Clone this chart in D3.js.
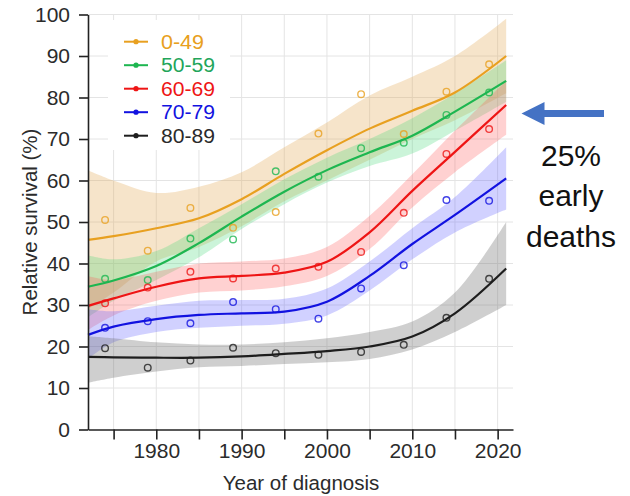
<html lang="en">
<head>
<meta charset="UTF-8">
<title>Relative survival</title>
<style>
  body { margin: 0; background: #fff; }
  text { font-family: "Liberation Sans", Arial, sans-serif; }
</style>
</head>
<body>
<script src="https://d3js.org/d3.v7.min.js"></script>
<script>
// age groups
var groups = ["0-49", "50-59", "60-69", "70-79", "80-89"];
var lineColors = ["#e8a020", "#1db650", "#ee1515", "#1212e0", "#1e1e1e"];
var textColors = ["#e8a020", "#22a55a", "#ee1515", "#1212e0", "#2a2a2a"];
var bandColors = ["rgba(228,170,90,0.32)", "rgba(70,215,120,0.28)", "rgba(255,90,90,0.28)", "rgba(90,90,255,0.28)", "rgba(110,110,110,0.33)"];

// observed values
var pointYears = [1974, 1979, 1984, 1989, 1994, 1999, 2004, 2009, 2014, 2019];
var pts0 = [50.5, 43.1, 53.4, 48.6, 52.4, 71.3, 80.8, 71.2, 81.4, 88.0];
var pts1 = [36.3, 36.0, 46.0, 45.8, 62.2, 60.9, 67.8, 69.1, 75.8, 81.2];
var pts2 = [30.4, 34.2, 38.0, 36.4, 38.8, 39.2, 42.8, 52.2, 66.4, 72.4];
var pts3 = [24.5, 26.1, 25.6, 30.7, 29.0, 26.7, 34.0, 39.6, 55.3, 55.1];
var pts4 = [19.6, 14.9, 16.6, 19.7, 18.4, 18.0, 18.7, 20.4, 26.9, 36.3];

// fitted curve and confidence band
var fitYears = [1972, 1975, 1980, 1985, 1990, 1995, 2000, 2005, 2010, 2015, 2021];
var fit0 = [45.7, 46.6, 48.5, 50.9, 55.5, 61.6, 67.3, 72.5, 76.8, 81.2, 90.0];
var lo0  = [29.0, 33.0, 40.5, 44.0, 49.0, 55.0, 60.0, 65.0, 70.0, 74.5, 81.0];
var hi0  = [62.5, 60.0, 57.0, 58.5, 62.0, 68.0, 74.0, 80.5, 85.0, 90.0, 99.0];
var fit1 = [34.4, 35.9, 39.4, 44.9, 51.3, 57.3, 62.5, 66.8, 70.8, 76.6, 84.0];
var lo1  = [27.0, 31.0, 36.0, 41.5, 48.3, 54.3, 59.5, 63.5, 66.5, 72.0, 79.0];
var hi1  = [42.0, 41.0, 43.0, 48.5, 54.3, 60.3, 65.5, 70.0, 75.0, 81.0, 89.0];
var fit2 = [29.8, 31.6, 34.4, 36.4, 37.0, 37.8, 40.4, 47.5, 57.5, 66.9, 78.2];
var lo2  = [24.0, 27.5, 31.0, 33.0, 33.5, 34.5, 37.0, 43.5, 53.5, 62.0, 71.0];
var hi2  = [37.0, 36.0, 38.0, 40.0, 40.5, 41.2, 44.0, 51.5, 61.5, 72.0, 84.0];
var fit3 = [22.8, 24.8, 26.6, 27.6, 28.0, 28.4, 30.8, 37.0, 44.7, 51.7, 60.5];
var lo3  = [17.0, 21.0, 23.5, 24.5, 25.0, 25.5, 27.5, 33.5, 41.0, 47.5, 53.0];
var hi3  = [29.0, 28.5, 29.8, 31.0, 31.2, 31.5, 34.0, 40.5, 48.5, 56.0, 68.0];
var fit4 = [17.5, 17.4, 17.3, 17.3, 17.6, 18.2, 18.9, 20.0, 22.4, 28.0, 38.8];
var lo4  = [11.3, 12.5, 14.0, 15.0, 15.3, 15.8, 16.2, 17.0, 19.3, 23.5, 30.0];
var hi4  = [22.5, 22.0, 21.0, 20.5, 20.5, 21.0, 22.0, 23.5, 26.0, 33.0, 50.0];

var yTicks = [0, 10, 20, 30, 40, 50, 60, 70, 80, 90, 100];
var xTicks = [1975, 1980, 1985, 1990, 1995, 2000, 2005, 2010, 2015, 2020];
var xLabels = [1980, 1990, 2000, 2010, 2020];
var noteLines = ["25%", "early", "deaths"];

var pts = [pts0, pts1, pts2, pts3, pts4];
var fits = [fit0, fit1, fit2, fit3, fit4];
var los = [lo0, lo1, lo2, lo3, lo4];
var his = [hi0, hi1, hi2, hi3, hi4];

var svg = d3.select("body").append("svg").attr("width", 630).attr("height", 496);

var x = d3.scaleLinear().domain([1972, 2021.8]).range([88, 513]);
var y = d3.scaleLinear().domain([0, 100]).range([429.5, 14.5]);

// grid
svg.append("g").selectAll("line").data(xTicks).enter().append("line")
    .attr("x1", function(d){ return x(d); }).attr("x2", function(d){ return x(d); })
    .attr("y1", y(0)).attr("y2", y(100))
    .attr("stroke", "#e4e4e4").attr("stroke-width", 1);
svg.append("g").selectAll("line").data(yTicks.slice(1)).enter().append("line")
    .attr("x1", x(1972)).attr("x2", x(2021.8))
    .attr("y1", function(d){ return y(d); }).attr("y2", function(d){ return y(d); })
    .attr("stroke", "#e4e4e4").attr("stroke-width", 1);

// bands
var curve = d3.curveCatmullRom.alpha(0.5);
var area = d3.area()
    .x(function(d){ return x(d.yr); })
    .y0(function(d){ return y(d.lo); })
    .y1(function(d){ return y(d.hi); })
    .curve(curve);
var line = d3.line()
    .x(function(d){ return x(d.yr); })
    .y(function(d){ return y(d.v); })
    .curve(curve);

groups.forEach(function(g, i){
    var rows = fitYears.map(function(yr, j){ return { yr: yr, lo: los[i][j], hi: his[i][j] }; });
    svg.append("path").attr("d", area(rows)).attr("fill", bandColors[i]);
});

groups.forEach(function(g, i){
    var rows = fitYears.map(function(yr, j){ return { yr: yr, v: fits[i][j] }; });
    svg.append("path").attr("d", line(rows)).attr("fill", "none")
        .attr("stroke", lineColors[i]).attr("stroke-width", 2.2);
});

groups.forEach(function(g, i){
    svg.append("g").selectAll("circle").data(pts[i]).enter().append("circle")
        .attr("cx", function(d, j){ return x(pointYears[j]); })
        .attr("cy", function(d){ return y(d); })
        .attr("r", 3.3)
        .attr("fill", "none")
        .attr("stroke", lineColors[i])
        .attr("stroke-opacity", 0.8)
        .attr("stroke-width", 1.4);
});

// axes
var yAxis = d3.axisLeft(y).tickValues(yTicks).tickSize(9).tickSizeOuter(0).tickPadding(9);
var gy = svg.append("g").attr("transform", "translate(88,0)").call(yAxis);
var xAxis = d3.axisBottom(x).tickValues(xTicks).tickSize(10).tickSizeOuter(0).tickPadding(4)
    .tickFormat(function(d){ return xLabels.indexOf(d) >= 0 ? d : ""; });
var gx = svg.append("g").attr("transform", "translate(0," + y(0) + ")").call(xAxis);
[gx, gy].forEach(function(g){
    g.selectAll("path, line").attr("stroke", "#222").attr("stroke-width", 1.6);
    g.selectAll("text").attr("font-size", 21).attr("fill", "#2b2b2b")
        .attr("font-family", "Liberation Sans, Arial, sans-serif");
});

svg.append("text")
    .attr("transform", "translate(37,222) rotate(-90)")
    .attr("text-anchor", "middle")
    .attr("font-size", 20.5).attr("fill", "#2b2b2b")
    .text("Relative survival (%)");
svg.append("text")
    .attr("x", 301).attr("y", 490)
    .attr("text-anchor", "middle")
    .attr("font-size", 20.5).attr("fill", "#2b2b2b")
    .text("Year of diagnosis");

// legend
var legend = svg.append("g");
legend.append("rect").attr("x", 108).attr("y", 20).attr("width", 122).attr("height", 130).attr("fill", "#fff");
groups.forEach(function(g, i){
    var cy = 41.7 + i * 23.5;
    legend.append("line").attr("x1", 124).attr("x2", 148).attr("y1", cy).attr("y2", cy)
        .attr("stroke", lineColors[i]).attr("stroke-width", 2);
    legend.append("circle").attr("cx", 136).attr("cy", cy).attr("r", 2.6).attr("fill", lineColors[i]);
    legend.append("text").attr("x", 161).attr("y", cy).attr("dy", "0.36em")
        .attr("font-size", 20).attr("fill", textColors[i])
        .attr("textLength", 54).attr("lengthAdjust", "spacingAndGlyphs")
        .text(g);
});
legend.selectAll("text").filter(function(d, i){ return i === 0; }).attr("textLength", 43);

// arrow and note
svg.append("path")
    .attr("d", "M521.5,113.5 L544.5,102 L544.5,110 L604,110 L604,117 L544.5,117 L544.5,125 Z")
    .attr("fill", "#4472c4");
svg.append("g").selectAll("text").data(noteLines).enter().append("text")
    .attr("x", 571).attr("y", function(d, i){ return 155 + i * 40.5; })
    .attr("dy", "0.36em")
    .attr("text-anchor", "middle")
    .attr("font-family", "Open Sans, Noto Sans, sans-serif")
    .attr("font-size", 30).attr("fill", "#111")
    .text(function(d){ return d; });
</script>
</body>
</html>
